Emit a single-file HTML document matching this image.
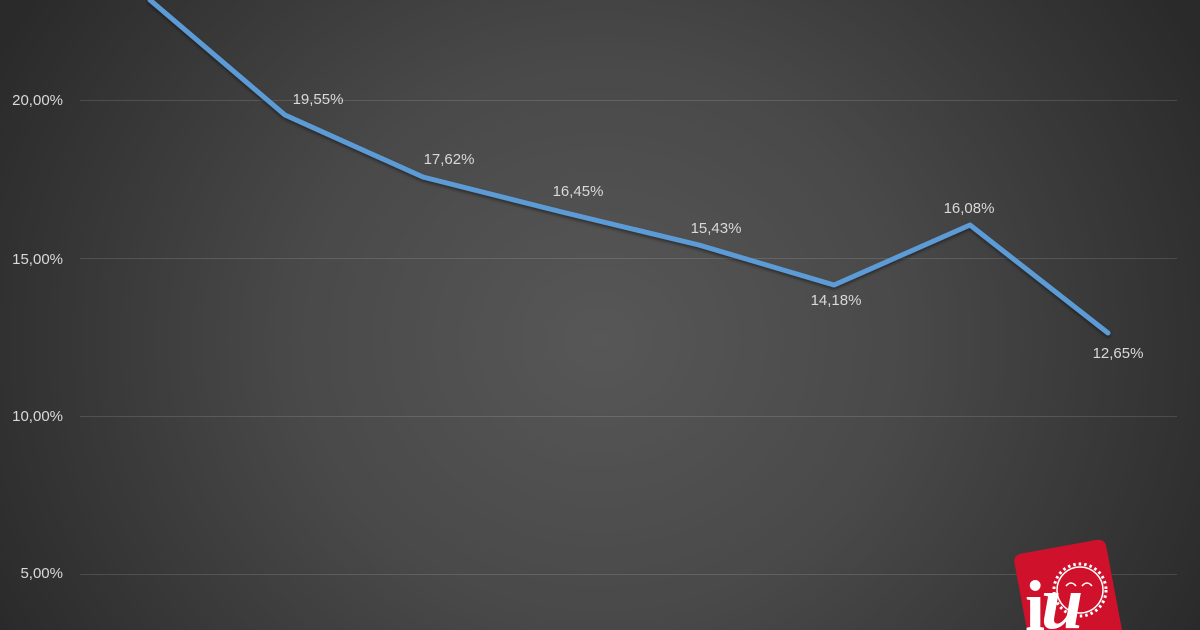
<!DOCTYPE html>
<html>
<head>
<meta charset="utf-8">
<style>
  html,body{margin:0;padding:0;width:1200px;height:630px;overflow:hidden;}
  body{background:radial-gradient(ellipse 680px 620px at 600px 340px,#575757 0%,#494949 45%,#2a2a2a 100%);}
  svg{position:absolute;left:0;top:0;display:block;overflow:hidden;}
  text{font-family:"Liberation Sans",sans-serif;font-size:15px;fill:#d9d9d9;}
</style>
</head>
<body>
<svg width="1200" height="630" viewBox="0 0 1200 630">
  <defs>
    <filter id="sh" x="-10%" y="-10%" width="120%" height="130%">
      <feDropShadow dx="0" dy="2" stdDeviation="1.5" flood-color="#000" flood-opacity="0.45"/>
    </filter>
  </defs>
  <!-- gridlines -->
  <g stroke="rgba(255,255,255,0.13)" stroke-width="1">
    <line x1="80" y1="100.5" x2="1177" y2="100.5"/>
    <line x1="80" y1="258.5" x2="1177" y2="258.5"/>
    <line x1="80" y1="416.5" x2="1177" y2="416.5"/>
    <line x1="80" y1="574.5" x2="1177" y2="574.5"/>
  </g>
  <!-- y axis labels -->
  <g text-anchor="end">
    <text x="63" y="105">20,00%</text>
    <text x="63" y="264">15,00%</text>
    <text x="63" y="421">10,00%</text>
    <text x="63" y="578">5,00%</text>
  </g>
  <!-- series -->
  <polyline filter="url(#sh)" fill="none" stroke="#5b9bd5" stroke-width="5" stroke-linejoin="round" stroke-linecap="round"
    points="150,0 285,115 423,177 562,212 699,245 834,285 970,225 1108,333"/>
  <!-- data labels -->
  <g text-anchor="middle">
    <text x="318" y="104">19,55%</text>
    <text x="449" y="164">17,62%</text>
    <text x="578" y="196">16,45%</text>
    <text x="716" y="233">15,43%</text>
    <text x="836" y="305">14,18%</text>
    <text x="969" y="213">16,08%</text>
    <text x="1118" y="358">12,65%</text>
  </g>
  <!-- logo -->
  <path d="M1022,553.5 L1096,540 Q1105,538.5 1106.5,547.5 L1122,630 L1027,630 L1014.5,563 Q1013,555 1022,553.5 Z" fill="#d0112b"/>
  <circle cx="1080" cy="590" r="23" fill="none" stroke="#fff" stroke-width="1.5"/>
  <circle cx="1080" cy="590" r="26" fill="none" stroke="#fff" stroke-width="3" stroke-dasharray="2.5 3"/>
  <path d="M1066,586 q5,-6 10,0 M1082,586 q5,-6 10,0" fill="none" stroke="#fff" stroke-width="1.6"/>
  <text x="1025" y="630" style="font-family:'Liberation Serif',serif;font-weight:bold;font-size:72px;fill:#fff;">i</text>
  <text x="1041" y="628" style="font-family:'Liberation Serif',serif;font-weight:bold;font-style:italic;font-size:76px;fill:#fff;">u</text>
</svg>
</body>
</html>
